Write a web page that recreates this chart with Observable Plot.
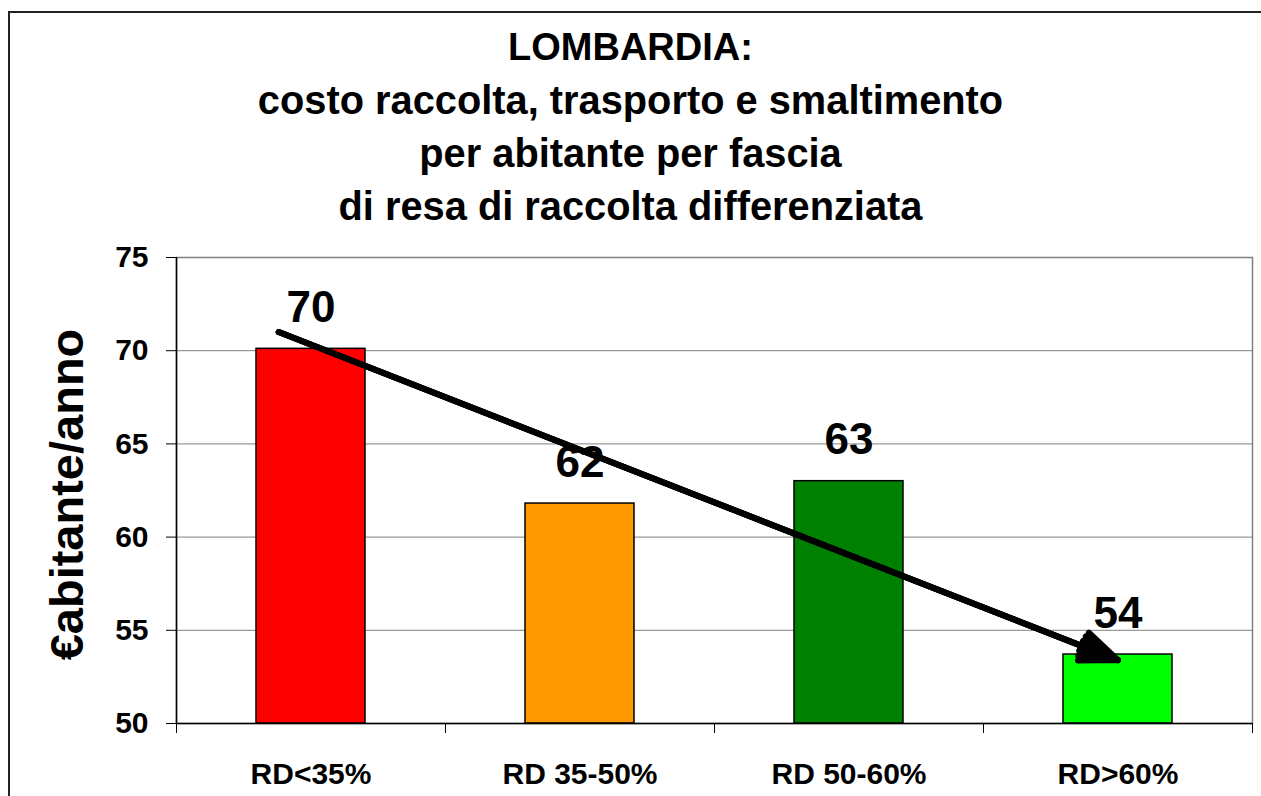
<!DOCTYPE html>
<html><head><meta charset="utf-8">
<script src="https://cdn.jsdelivr.net/npm/d3@7"></script>
<script src="https://cdn.jsdelivr.net/npm/@observablehq/plot@0.6"></script>
<style>
html,body{margin:0;padding:0;background:#fff;overflow:hidden;width:1261px;height:796px;}
#frame{position:absolute;left:8px;top:11px;width:1400px;height:1000px;border:2px solid #222;box-sizing:border-box;z-index:5;pointer-events:none;}
#title{position:absolute;left:0;top:21px;width:1261px;text-align:center;font-family:"Liberation Sans",Arial,sans-serif;font-weight:bold;font-size:39.8px;line-height:53px;color:#000;}
#title div:first-child{font-size:38px;}
#chart{position:absolute;left:0;top:240px;}
</style></head><body>
<div id="frame"></div>
<div id="title"></div>
<div id="chart"></div>
<script>
const titleLines = ["LOMBARDIA:", "costo raccolta, trasporto e smaltimento", "per abitante per fascia", "di resa di raccolta differenziata"];
const categories = ["RD<35%", "RD 35-50%", "RD 50-60%", "RD>60%"];
const values = [70.1, 61.8, 63.0, 53.7];
const valueLabels = ["70", "62", "63", "54"];
const colors = ["#FF0000", "#FF9900", "#008000", "#00FF00"];
const yTicks = [50, 55, 60, 65, 70, 75];
const yLabel = "€abitante/anno";
// trend arrow: position along the category axis (0 = left edge of first band) and value
const arrowX = [0.38, 3.5];
const arrowY = [71.0, 53.4];

document.getElementById("title").innerHTML = titleLines.map(t => `<div>${t}</div>`).join("");

const data = categories.map((c, i) => ({i, cat: c, value: values[i], label: valueLabels[i], color: colors[i]}));
const arrowData = [{x1: arrowX[0], y1: arrowY[0], x2: arrowX[1], y2: arrowY[1]}];
const boundaries = categories.map((c, i) => i).concat([categories.length]);
const centers = categories.map((c, i) => i + 0.5);

const arrowLayer = (angle) => Plot.arrow(arrowData, {
  x1: "x1", y1: "y1", x2: "x2", y2: "y2",
  stroke: "black", strokeWidth: 6, headLength: 10, headAngle: angle
});

const chart = Plot.plot({
  width: 1261,
  height: 556,
  marginTop: 17,
  marginBottom: 73,
  marginLeft: 176,
  marginRight: 9,
  style: {fontFamily: '"Liberation Sans", Arial, sans-serif', fontWeight: "bold", color: "black", background: "transparent", overflow: "visible"},
  x: {domain: [0, categories.length]},
  y: {domain: [yTicks[0], yTicks[yTicks.length - 1]]},
  color: {type: "identity"},
  marks: [
    Plot.gridY({ticks: yTicks, stroke: "#808080", strokeOpacity: 1, strokeWidth: 1}),
    Plot.frame({stroke: "#808080", strokeWidth: 1.5}),
    Plot.rectY(data, {x1: d => d.i, x2: d => d.i + 1, y1: yTicks[0], y2: "value", fill: "color", stroke: "black", strokeWidth: 1.5, insetLeft: 80, insetRight: 80}),
    Plot.ruleX([boundaries[0]], {stroke: "black", strokeWidth: 1.5}),
    Plot.ruleY([yTicks[0]], {stroke: "black", strokeWidth: 1.5}),
    Plot.axisY({ticks: yTicks, tickSize: 10, tickPadding: 18, fontSize: 30, label: null, tickFormat: d => String(d)}),
    Plot.axisX({ticks: boundaries, tickSize: 10, tickFormat: () => "", label: null}),
    Plot.axisX({ticks: centers, tickSize: 0, tickPadding: 39, fontSize: 30, label: null, tickFormat: v => categories[Math.floor(v)]}),
    arrowLayer(44),
    arrowLayer(30),
    arrowLayer(15),
    Plot.text(data, {x: d => d.i + 0.5, y: "value", text: "label", dy: -27, lineAnchor: "bottom", fontSize: 44, fontWeight: "bold", fill: "black"}),
    Plot.text([yLabel], {frameAnchor: "left", text: d => d, rotate: -90, dx: -94, dy: 4, textAnchor: "middle", lineAnchor: "bottom", fontSize: 47, fontWeight: "bold", fill: "black"})
  ]
});
document.getElementById("chart").appendChild(chart);
</script>
</body></html>
